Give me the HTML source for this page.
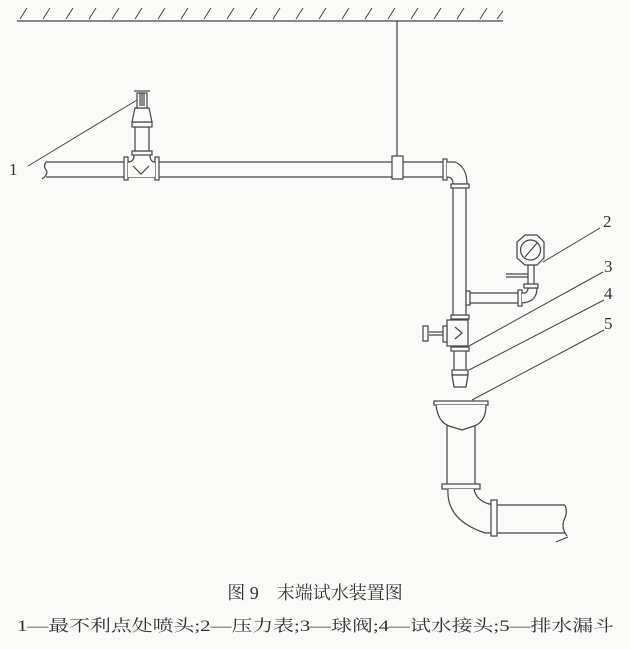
<!DOCTYPE html>
<html><head><meta charset="utf-8"><style>
html,body{margin:0;padding:0;background:#fafaf8}
svg{display:block}
text{font-family:"Liberation Serif","Noto Serif CJK SC",serif;fill:#333}
</style></head><body>
<svg width="630" height="649" viewBox="0 0 630 649" xmlns="http://www.w3.org/2000/svg">
<rect width="630" height="649" fill="#fafaf8"/>
<g stroke="#444" stroke-width="1.2" fill="#fafaf8">
<line x1="17" y1="21" x2="503" y2="21"/>
<g stroke-width="1">
<path d="M20 19 L27 8 M43 19 L50 8 M66 19 L73 8 M89 19 L96 8 M112 19 L119 8 M135 19 L142 8 M158 19 L165 8 M181 19 L188 8 M204 19 L211 8 M227 19 L234 8 M250 19 L257 8 M273 19 L280 8 M296 19 L303 8 M319 19 L326 8 M342 19 L349 8 M365 19 L372 8 M388 19 L395 8 M411 19 L418 8 M434 19 L441 8 M457 19 L464 8 M480 19 L487 8 M497 19 L503 11"/>
</g>
<line x1="397" y1="21" x2="397" y2="156"/>
<line x1="46" y1="162" x2="445" y2="162"/>
<line x1="46" y1="177" x2="445" y2="177"/>
<path d="M46 162 q-3 4 0 8 q3 4 -4 9" fill="none"/>
<rect x="124" y="157" width="4" height="23"/>
<rect x="155" y="157" width="4" height="23"/>
<path d="M128 162 Q134 162 134 155 L150 155 Q150 162 155 162 L155 177 L128 177 Z" stroke="none"/>
<path d="M128 162 Q134 162 134 155 M150 155 Q150 162 155 162" fill="none"/>
<path d="M133 166 L141 174 L149 166" fill="none"/>
<rect x="132" y="151" width="20" height="4"/>
<rect x="135" y="127" width="14" height="24"/>
<rect x="132" y="122" width="20" height="5"/>
<path d="M135 108 L149 108 L152 122 L132 122 Z"/>
<rect x="137" y="93" width="10" height="15"/>
<line x1="140" y1="93" x2="140" y2="106"/><line x1="142" y1="93" x2="142" y2="106"/><line x1="144" y1="93" x2="144" y2="106"/>
<line x1="134" y1="91" x2="150" y2="91"/>
<rect x="392" y="156" width="11" height="23"/>
<rect x="443" y="159" width="4" height="21"/>
<path d="M447 162 L455 162 Q467 167 467 184 L453 184 Q453 177 447 177"/>
<rect x="451" y="184" width="18" height="4"/>
<line x1="453" y1="188" x2="453" y2="315"/>
<line x1="466" y1="188" x2="466" y2="315"/>
<rect x="466" y="291" width="4" height="14"/>
<line x1="470" y1="293" x2="518" y2="293"/>
<line x1="470" y1="303" x2="518" y2="303"/>
<rect x="518" y="290" width="4" height="16"/>
<path d="M522 293 L525 293 Q528 292 528 288 L537 288 Q537 302 522 303"/>
<rect x="524" y="284" width="14" height="4"/>
<line x1="528" y1="284" x2="528" y2="265"/><line x1="534" y1="284" x2="534" y2="265"/>
<line x1="506" y1="274" x2="528" y2="274"/><line x1="506" y1="277" x2="528" y2="277"/>
<polygon points="525,235 537,235 544,242 544,258 537,265 525,265 517,258 517,242"/>
<circle cx="530.5" cy="250" r="10"/>
<line x1="525" y1="257" x2="537" y2="243"/>
<rect x="451" y="315" width="18" height="4"/>
<rect x="447" y="320" width="21" height="26"/>
<path d="M455 327 L462 333 L455 339" fill="none"/>
<line x1="429" y1="332" x2="443" y2="332"/>
<line x1="429" y1="335" x2="443" y2="335"/>
<rect x="423" y="326" width="5" height="15"/>
<rect x="443" y="326" width="4" height="16"/>
<rect x="451" y="347" width="18" height="4"/>
<line x1="454" y1="351" x2="454" y2="370"/><line x1="466" y1="351" x2="466" y2="370"/>
<rect x="452" y="370" width="16" height="5"/>
<path d="M452 375 L468 375 L466 387 L454 387 Z"/>
<rect x="434" y="401" width="54" height="4"/>
<path d="M436 405 Q438 422 449 426 L462 430 L474 426 Q486 422 486 405"/>
<line x1="447" y1="426" x2="447" y2="485"/><line x1="475" y1="426" x2="475" y2="485"/>
<rect x="442" y="484" width="38" height="5"/>
<path d="M448 489 Q446 520 485 533 L493 533 L493 504 L489 504 Q476 500 474 489"/>
<rect x="491" y="500" width="6" height="36"/>
<line x1="497" y1="505" x2="565" y2="505"/>
<line x1="497" y1="533" x2="565" y2="533"/>
<path d="M565 505 q3 8 -1 15 q-3 8 3 16 M568 537 l-12 5" fill="none"/>
<g fill="none" stroke-width="1">
<line x1="28" y1="166" x2="137" y2="100"/>
<line x1="543" y1="262" x2="600" y2="228"/>
<line x1="469" y1="346" x2="603" y2="272"/>
<line x1="469" y1="370" x2="604" y2="300"/>
<line x1="472" y1="400" x2="604" y2="330"/>
</g>
</g>
<g font-size="17">
<text x="9" y="175">1</text>
<text x="603" y="227">2</text>
<text x="604" y="272">3</text>
<text x="604" y="299">4</text>
<text x="604" y="329">5</text>
</g>
<text x="315" y="599" font-size="18" text-anchor="middle">图 9　末端试水装置图</text>
<text x="17" y="631" font-size="16" textLength="597" lengthAdjust="spacingAndGlyphs">1—最不利点处喷头;2—压力表;3—球阀;4—试水接头;5—排水漏斗</text>
</svg>
</body></html>
